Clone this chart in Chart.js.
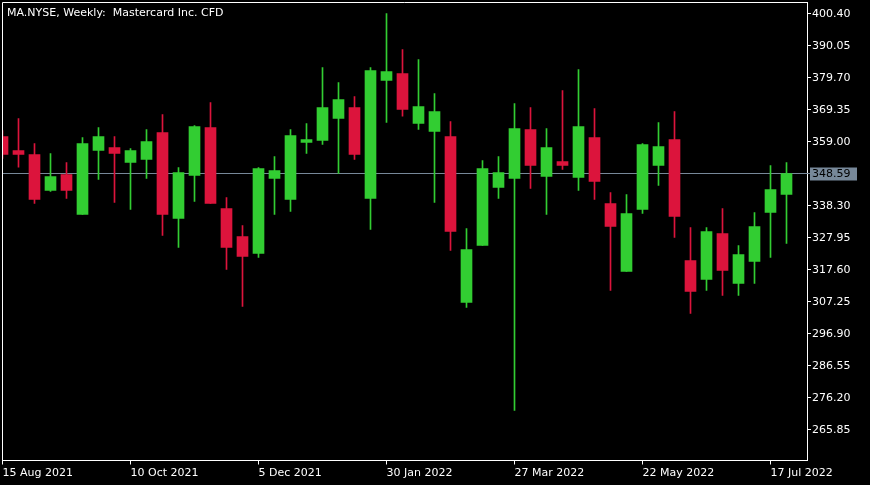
<!DOCTYPE html>
<html>
<head>
<meta charset="utf-8">
<script src="https://cdn.jsdelivr.net/npm/chart.js@4/dist/chart.umd.min.js"></script>
<style>
  html, body { margin: 0; padding: 0; background: #000; }
  #wrap { width: 870px; height: 485px; }
</style>
</head>
<body>
<div id="wrap"><canvas id="maChart" width="870" height="485"></canvas></div>
<script>
// weekly candles, 15 Aug 2021 .. 24 Jul 2022
const opens  = [360.62, 356.09, 354.80, 343.15, 348.33, 335.39, 356.09, 357.06, 352.21, 353.18,
                361.91, 334.09, 348.00, 363.53, 337.33, 328.27, 322.77, 347.03, 340.24, 358.68,
                359.32, 366.44, 370.00, 340.56, 378.73, 380.99, 364.82, 362.23, 360.62, 306.93,
                325.36, 344.12, 347.03, 362.88, 347.68, 352.53, 347.36, 360.29, 338.95, 316.95,
                337.01, 351.24, 359.65, 320.51, 314.36, 329.24, 313.07, 320.19, 336.04, 341.86];
const highs  = [362.50, 366.44, 358.35, 355.12, 352.21, 360.29, 363.53, 360.62, 356.74, 362.88,
                367.73, 350.59, 364.17, 371.61, 340.89, 331.83, 350.59, 354.15, 362.88, 364.82,
                382.93, 378.08, 373.55, 382.93, 400.40, 388.76, 385.52, 374.52, 365.47, 330.86,
                352.85, 354.15, 371.29, 370.00, 363.20, 375.50, 382.29, 369.67, 342.50, 341.86,
                358.30, 365.15, 368.70, 331.18, 331.18, 337.33, 325.36, 336.04, 351.24, 352.21];
const lows   = [353.50, 350.69, 338.95, 342.83, 340.56, 335.39, 346.71, 339.27, 337.01, 347.03,
                328.60, 324.72, 339.59, 338.95, 317.60, 305.63, 321.48, 335.39, 336.36, 355.12,
                358.03, 348.65, 353.18, 330.54, 365.15, 367.18, 362.88, 339.27, 323.74, 305.31,
                325.36, 340.56, 271.99, 343.80, 335.39, 349.94, 343.15, 340.24, 310.81, 316.95,
                335.71, 344.77, 327.95, 303.37, 310.81, 309.19, 309.19, 313.07, 321.48, 326.01];
const closes = [354.80, 354.80, 340.24, 347.68, 343.15, 358.35, 360.62, 355.12, 356.09, 359.00,
                335.39, 348.97, 363.85, 338.95, 324.72, 321.80, 350.27, 349.62, 360.94, 359.65,
                370.00, 372.58, 354.80, 381.96, 381.64, 369.35, 370.32, 368.70, 329.89, 324.07,
                350.27, 348.97, 363.20, 351.24, 357.06, 351.24, 363.85, 346.06, 331.51, 335.71,
                358.03, 357.38, 334.74, 310.48, 329.89, 317.28, 322.45, 331.51, 343.47, 348.59];

const xTickIdx    = [0, 8, 16, 24, 32, 40, 48];
const xTickLabels = ["15 Aug 2021", "10 Oct 2021", "5 Dec 2021", "30 Jan 2022", "27 Mar 2022", "22 May 2022", "17 Jul 2022"];
const yTicks = [265.85, 276.20, 286.55, 296.90, 307.25, 317.60, 327.95, 338.30, 359.00, 369.35, 379.70, 390.05, 400.40];
const lastPrice = 348.59;
const chartTitle = "MA.NYSE, Weekly:  Mastercard Inc. CFD";

const UP = "#32cd32";
const DOWN = "#dc143c";
const FONT = "DejaVu Sans";

const candleColor = opens.map((o, i) => closes[i] >= o ? UP : DOWN);
const wickData = highs.map((h, i) => ({ x: i, y: [lows[i], h] }));
const bodyData = opens.map((o, i) => ({ x: i, y: [o, closes[i]] }));

// frame, title and last price marker
const mtDecor = {
  id: "mtDecor",
  beforeDatasetsDraw(chart) {
    const { ctx, chartArea } = chart;
    const y = Math.round(chart.scales.y.getPixelForValue(lastPrice)) - 0.5;
    ctx.save();
    ctx.strokeStyle = "#778899";
    ctx.lineWidth = 1;
    ctx.beginPath();
    ctx.moveTo(chartArea.left, y);
    ctx.lineTo(chartArea.right + 3, y);
    ctx.stroke();
    ctx.restore();
  },
  afterDraw(chart) {
    const { ctx, chartArea } = chart;
    ctx.save();
    ctx.strokeStyle = "#ffffff";
    ctx.lineWidth = 1;
    ctx.beginPath();
    ctx.moveTo(chartArea.left + 0.5, chartArea.bottom);
    ctx.lineTo(chartArea.left + 0.5, chartArea.top + 0.5);
    ctx.lineTo(chartArea.right, chartArea.top + 0.5);
    ctx.stroke();

    ctx.font = "11px '" + FONT + "'";
    ctx.fillStyle = "#ffffff";
    ctx.textBaseline = "alphabetic";
    ctx.textAlign = "left";
    ctx.fillText(chartTitle, 7, 16);

    const y = Math.round(chart.scales.y.getPixelForValue(lastPrice)) - 0.5;
    ctx.fillStyle = "#778899";
    ctx.fillRect(chartArea.right + 3, y - 6, 47, 13);
    ctx.fillStyle = "#000000";
    ctx.textBaseline = "middle";
    ctx.fillText(lastPrice.toFixed(2), chartArea.right + 5, y + 1);
    ctx.restore();
  }
};

new Chart(document.getElementById("maChart"), {
  type: "bar",
  data: {
    datasets: [
      {
        label: "wick",
        data: wickData,
        backgroundColor: candleColor,
        barThickness: 1,
        grouped: false,
        borderWidth: 0,
        order: 2
      },
      {
        label: "body",
        data: bodyData,
        backgroundColor: candleColor,
        barThickness: 11,
        grouped: false,
        borderWidth: 0,
        minBarLength: 1,
        order: 1
      }
    ]
  },
  options: {
    responsive: false,
    animation: false,
    devicePixelRatio: 1,
    layout: { padding: { left: 2, top: 2, right: 0, bottom: 0 } },
    plugins: {
      legend: { display: false },
      tooltip: { enabled: false }
    },
    scales: {
      x: {
        type: "linear",
        offset: false,
        min: -0.03125,
        max: 50.28125,
        grid: { offset: false, drawOnChartArea: false, color: "#ffffff", tickLength: 4 },
        border: { color: "#ffffff" },
        ticks: {
          color: "#ffffff",
          font: { family: FONT, size: 11 },
          align: "start",
          padding: 2,
          maxRotation: 0,
          autoSkip: false,
          callback: (v) => xTickLabels[xTickIdx.indexOf(v)]
        },
        afterBuildTicks: (s) => { s.ticks = xTickIdx.map(v => ({ value: v })); },
        afterFit: (s) => { s.height = 24.5; s.paddingLeft = 0; s.paddingRight = 0; }
      },
      y: {
        position: "right",
        min: 255.82,
        max: 404.12,
        grid: { drawOnChartArea: false, color: "#ffffff", tickLength: 4 },
        border: { color: "#ffffff" },
        ticks: {
          color: "#ffffff",
          font: { family: FONT, size: 11 },
          padding: 1,
          labelOffset: 1,
          autoSkip: false,
          callback: (v) => v.toFixed(2)
        },
        afterBuildTicks: (s) => { s.ticks = yTicks.map(v => ({ value: v })); },
        afterFit: (s) => { s.width = 63; s.paddingTop = 0; s.paddingBottom = 0; }
      }
    }
  },
  plugins: [mtDecor]
});
</script>
</body>
</html>
